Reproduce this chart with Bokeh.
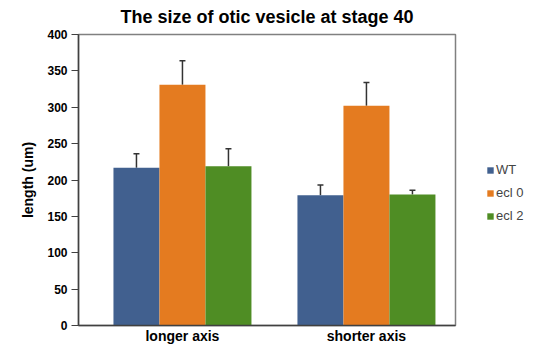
from bokeh.plotting import figure
from bokeh.models import (ColumnDataSource, Range1d, FixedTicker, Whisker, TeeHead,
                          Legend, LegendItem)
from bokeh.embed import file_html
from bokeh.resources import INLINE

categories = ["longer axis", "shorter axis"]
series = ["WT", "ecl 0", "ecl 2"]
wt = [217, 179]
ecl0 = [331, 302]
ecl2 = [219, 180]
wt_err = [19, 14]
ecl0_err = [33, 32]
ecl2_err = [24, 6]
colors = ["#41608F", "#E47B20", "#4F8D24"]
y_ticks = [0, 50, 100, 150, 200, 250, 300, 350, 400]

FONT = "Liberation Sans"

p = figure(frame_width=377, frame_height=291, output_backend="svg", toolbar_location=None,
           x_range=Range1d(-0.065, 1.984), y_range=Range1d(0, 400),
           title="The size of otic vesicle at stage 40",
           min_border_left=78, min_border_right=70, min_border_top=30,
           min_border_bottom=20)

p.title.align = "center"
p.title.vertical_align = "top"
p.title.text_font = FONT
p.title.text_font_size = "18px"
p.title.text_font_style = "bold"
p.title.text_color = "#000000"
p.title.offset = 0
p.title.standoff = 12

p.grid.visible = False
p.outline_line_color = "#808080"
p.outline_line_width = 1.5

width = 0.25
offsets = [-width, 0, width]
vals = [wt, ecl0, ecl2]
errs = [wt_err, ecl0_err, ecl2_err]
items = []
for s, v, e, off, c in zip(series, vals, errs, offsets, colors):
    xs = [i + 0.5 + off for i in range(len(categories))]
    src = ColumnDataSource(dict(x=xs, top=v, up=[a + b for a, b in zip(v, e)]))
    r = p.vbar(x="x", top="top", width=width, source=src, fill_color=c, line_color=None)
    w = Whisker(base="x", lower="top", upper="up", source=src, dimension="height",
                line_color="#333333", line_width=1.5,
                upper_head=TeeHead(size=6, line_color="#333333", line_width=1.5),
                lower_head=None)
    p.add_layout(w)
    items.append(LegendItem(label=s, renderers=[r]))

legend = Legend(items=items, location=(31, 102), orientation="vertical",
                label_text_font=FONT, label_text_font_size="13px",
                glyph_width=8, glyph_height=8, label_standoff=2, spacing=8,
                padding=0, margin=0, border_line_color=None,
                background_fill_alpha=0, label_height=14)
p.add_layout(legend, "right")

p.xaxis.ticker = FixedTicker(ticks=[i + 0.5 for i in range(len(categories))])
p.xaxis.major_label_overrides = {i + 0.5: c for i, c in enumerate(categories)}
p.xaxis.major_tick_out = 0
p.xaxis.major_tick_in = 0
p.xaxis.minor_tick_out = 0
p.xaxis.minor_tick_in = 0
p.xaxis.major_label_standoff = 2
p.xaxis.major_label_text_font = FONT
p.xaxis.major_label_text_font_size = "14px"
p.xaxis.major_label_text_font_style = "bold"
p.xaxis.major_label_text_color = "#000000"
p.xaxis.axis_line_color = "#404040"
p.xaxis.axis_line_width = 1.5

p.yaxis.ticker = FixedTicker(ticks=y_ticks)
p.yaxis.minor_tick_out = 0
p.yaxis.minor_tick_in = 0
p.yaxis.major_tick_out = 7
p.yaxis.major_tick_in = 0
p.yaxis.major_tick_line_color = "#404040"
p.yaxis.major_label_standoff = 4
p.yaxis.major_label_text_font = FONT
p.yaxis.major_label_text_font_size = "12px"
p.yaxis.major_label_text_font_style = "bold"
p.yaxis.major_label_text_color = "#000000"
p.yaxis.axis_line_color = "#404040"
p.yaxis.axis_line_width = 1.5
p.yaxis.axis_label = "length (um)"
p.yaxis.axis_label_text_font = FONT
p.yaxis.axis_label_text_font_size = "14px"
p.yaxis.axis_label_text_font_style = "bold"
p.yaxis.axis_label_text_color = "#000000"
p.yaxis.axis_label_standoff = 8

open("out.html", "w").write(file_html(p, INLINE))
